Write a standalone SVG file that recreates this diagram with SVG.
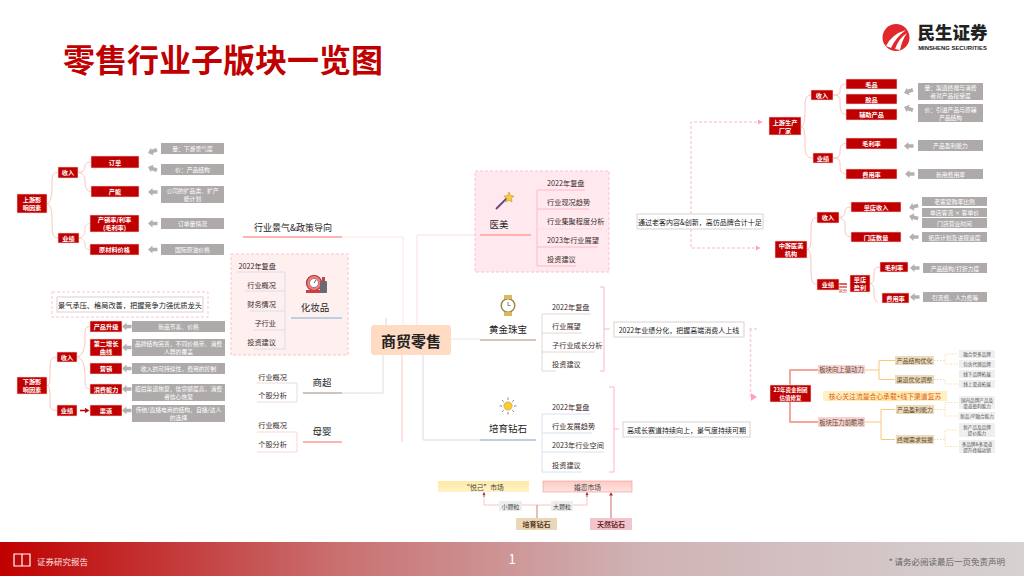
<svg xmlns="http://www.w3.org/2000/svg" width="1024" height="576" viewBox="0 0 1024 576">
<defs>
<linearGradient id="foot" x1="0" x2="1" y1="0" y2="0"><stop offset="0" stop-color="#c00000"/><stop offset=".33" stop-color="#c97070"/><stop offset=".62" stop-color="#d0b2b4"/><stop offset="1" stop-color="#d6d2d2"/></linearGradient>
<linearGradient id="yel" x1="0" x2="0" y1="0" y2="1"><stop offset="0" stop-color="#ffe9a6"/><stop offset="1" stop-color="#fff2c6"/></linearGradient>
<linearGradient id="pnk" x1="0" x2="0" y1="0" y2="1"><stop offset="0" stop-color="#ffc9c4"/><stop offset="1" stop-color="#ffe3df"/></linearGradient>
<linearGradient id="ban" x1="0" x2="1" y1="0" y2="0"><stop offset="0" stop-color="#fff1c4"/><stop offset=".5" stop-color="#ffe9a6"/><stop offset="1" stop-color="#fff1c4"/></linearGradient>
<path id="la" d="M0 0l4.500-4v2.200h5v3.600h-5v2.200z" fill="#b4b0b0"/>
<marker id="mp" markerWidth="6" markerHeight="6" refX="4" refY="3" orient="auto"><path d="M0 .5L4 3L0 5.500z" fill="#ff9fb8"/></marker>
<marker id="md" markerWidth="5" markerHeight="5" refX="3" refY="2.500" orient="auto"><path d="M0 .5L3 2.500L0 4.500z" fill="#b03030"/></marker>
</defs>
<style>
text{font-family:"Noto Sans CJK SC","Noto Sans",sans-serif;text-anchor:middle;dominant-baseline:central}
.r{fill:#c00000;stroke:#f5d5d5;stroke-width:.6}
.rt{fill:#fff;font-size:6.200px;font-weight:700}
.g{fill:#aeaaaa}
.gt{fill:#fff;font-size:5.800px}
.b{fill:none;stroke:#f4b9b0;stroke-width:.8}
.t{fill:#3a2a2a;font-size:7.200px}
.st{text-anchor:start}
.en{text-anchor:end}
.lb{fill:#222;font-size:9.500px}
.sm{fill:#efefef}
.smt{fill:#555;font-size:4.600px}
.tan{fill:#ecdcbc}
.tn{fill:#5a4a30;font-size:6.400px}
.pk{fill:#f8d3d3}
.hd{fill:#fff;stroke:#e2d8d4;stroke-width:1.200}
.dp{fill:none;stroke:#ffb5c8;stroke-width:1;stroke-dasharray:3 2}
.gd{fill:none;stroke:#f8c978;stroke-width:1}
.dot{fill:none;stroke:#f8d58c;stroke-width:.8;stroke-dasharray:1.500 1.500}
</style>
<rect width="1024" height="576" fill="#fff"/>
<g id="title"><text x="63" y="58" style="text-anchor:start;font-size:32px;font-weight:700;fill:#c00000">零售行业子版块一览图</text></g>
<g id="logo"><circle cx="896" cy="37.500" r="13.500" fill="#e1272c"/><path d="M886 46Q892 34 906 30Q896 37 891 48zM895 49Q899 38 907 33Q902 40 900 50z" fill="#fff"/><text x="952.500" y="31.500" style="font-size:17.500px;font-weight:900;fill:#222">民生证券</text><text x="952.500" y="48" style="font-size:5.900px;font-weight:700;fill:#222;font-family:'Liberation Sans',sans-serif">MINSHENG SECURITIES</text></g>

<g id="connectors" fill="none">
<path class="b" d="M58 172.500C52 172.500 52 176 52 185C52 198 50 203 47 203.500C50 204 52 209 52 220C52 232 52 238 58 238"/>
<path class="b" d="M91 162C85 162 85 165 85 167C85 171 82 172 78 172.500C82 173 85 175 85 180C85 187 86 191.500 91 191.500"/>
<path class="b" d="M91 223.500C85 223.500 85 227 85 230C85 235 83 237.500 79 238C83 238.500 85 241 85 244C85 248 86 249.500 90 249.500" style="stroke-opacity:.9"/>
<path class="b" d="M57 357C50 357 50 362 50 372C50 382 50 385 47 385.500C50 386 50 392 50 400C50 408 50 410.500 57 410.500"/>
<path class="b" d="M90 326.500C84 326.500 85 332 85 340C85 350 82 356 77 357C82 358 85 364 85 375C85 385 85 389 90 389"/>
<path d="M80 410.500H87M85 408.500l3 2l-3 2" stroke="#c00000" stroke-width="1.500"/>
<path class="b" d="M811 95C805 95 805 100 805 110C805 122 804 126 801 126.500C804 127 805 131 805 142C805 152 805 158 813 158"/>
<path class="b" d="M846 84C840 84 840 88 840 92C840 95 837 95 833 95C837 95 840 96 840 100C840 108 840 114.500 846 114.500"/>
<path class="b" d="M846 143.500C840 143.500 840 148 840 153C840 157 837 158 833 158C837 158 840 159 840 163C840 170 840 174 846 174"/>
<path class="b" d="M817 217.500C811 217.500 811 223 811 235C811 246 810 249 807 249.500C810 250 811 254 811 265C811 277 811 284.500 817 284.500"/>
<path class="b" d="M851 207C845 207 845 210 845 212C845 216 842 217 839 217.500C842 218 845 220 845 225C845 232 845 237 851 237"/>
<path class="b" d="M880 267C874 267 874 270 874 275C874 281 873 283 870 283.500C873 284 874 287 874 292C874 299 876 302 878 303"/>
<path d="M839 284H847" stroke="#c00000" stroke-width="1.200"/><path d="M839 287H847" stroke="#c00000" stroke-width="1"/>
<path d="M342 237H403V325" stroke="#fbe6e4" stroke-width="1"/>
<path d="M386 318V325" stroke="#c9d6e6" stroke-width="1"/>
<path d="M417 325V235H480" stroke="#fbdfe2" stroke-width="1"/>
<path d="M451 339H480" stroke="#eee6e4" stroke-width="1"/>
<path d="M342 393H383V355" stroke="#e0dedc" stroke-width="1"/>
<path d="M402 355V442" stroke="#ffc6c6" stroke-width="1"/>
<path d="M423 355V440H480" stroke="#d5dce6" stroke-width="1"/>
<path d="M600 287H604V371H600M604 329H610" stroke="#ffb5c5" stroke-width="1"/>
<path d="M609 387H614V472H609M614 429H619" stroke="#ffb5c5" stroke-width="1"/>
<path class="dp" d="M691 214V122H762" marker-end="url(#mp)"/>
<path class="dp" d="M691 229V248H760" marker-end="url(#mp)"/>
<path d="M749 329H757M750.500 329V397H757" fill="none" stroke="#ffcbd8" stroke-width="1.500" stroke-dasharray="3 2" marker-end="url(#mp)"/>
<path d="M484 492V505H587V492" stroke="#f5c8c4" stroke-width="1"/>
<path d="M484 497V492.500" stroke="#b03030" stroke-width=".8" marker-end="url(#md)"/>
<path d="M587 497V492.500" stroke="#b03030" stroke-width=".8" marker-end="url(#md)"/>
<path d="M537 505V518" stroke="#c88070" stroke-width="1"/>
<path d="M611 518V492.500" stroke="#c87070" stroke-width="1" marker-end="url(#md)"/>
<path d="M818 370H790V422H818" stroke="#f08a80" stroke-width="1.500"/>
<path class="gd" d="M865 370H879V360.500H895M879 370V379.500H895"/>
<path class="gd" d="M865 422H881V409.500H895M881 422V439.500H895"/>
<path class="dot" d="M934 360.500H945V354H958M945 360.500V364H958"/>
<path class="dot" d="M934 379.500H945V384H958"/>
<path class="dot" d="M934 409.500H945V402.500H958M945 409.500V416H958"/>
<path class="dot" d="M934 439.500H945V430H958M945 439.500V446.500H958"/>
<g id="arrows">
<use href="#la" transform="translate(148 153) rotate(-20)"/><use href="#la" transform="translate(148 167) rotate(20)"/><use href="#la" x="148" y="192"/><use href="#la" x="148" y="223.500"/><use href="#la" x="148" y="249.500"/>
<use href="#la" x="122" y="326.500"/><use href="#la" x="122" y="347.500"/><use href="#la" x="122" y="368.500"/><use href="#la" x="122" y="389"/><use href="#la" x="122" y="410.500"/>
<use href="#la" transform="translate(904 93) rotate(-20)"/><use href="#la" transform="translate(904 107) rotate(20)"/><use href="#la" x="904" y="146"/><use href="#la" x="905" y="174"/>
<use href="#la" transform="translate(909 208) rotate(-15)"/><use href="#la" transform="translate(909 216) rotate(15)"/><use href="#la" x="909" y="237"/><use href="#la" x="910" y="268"/><use href="#la" x="910" y="297"/>
</g>
</g>

<g id="up-left">
<g id="n1"><rect class="r" x="17" y="194" width="30" height="19"/><text class="rt" x="32" y="199.500">上游影</text><text class="rt" x="32" y="207.500">响因素</text></g>
<g id="n2"><rect class="r" x="58" y="167" width="20" height="11"/><text class="rt" x="68" y="172.500">收入</text></g>
<g id="n3"><rect class="r" x="58" y="233" width="21" height="10"/><text class="rt" x="68.500" y="238">业绩</text></g>
<g id="n4"><rect class="r" x="91" y="156" width="48" height="12"/><text class="rt" x="115" y="162">订单</text></g>
<g id="n5"><rect class="r" x="91" y="186" width="48" height="11"/><text class="rt" x="115" y="191.500">产能</text></g>
<g id="n6"><rect class="r" x="90" y="215" width="49" height="17"/><text class="rt" x="114.500" y="219.500">产销率/利率</text><text class="rt" x="114.500" y="227.500">(毛利率)</text></g>
<g id="n7"><rect class="r" x="90" y="244" width="49" height="11"/><text class="rt" x="114.500" y="249.500">原材料价格</text></g>
<g id="n8"><rect class="g" x="161" y="143" width="63" height="11"/><text class="gt" x="192.500" y="148.500">量：下游景气度</text></g>
<g id="n9"><rect class="g" x="161" y="164" width="63" height="11"/><text class="gt" x="192.500" y="169.500">价：产品结构</text></g>
<g id="n10"><rect class="g" x="161" y="186" width="63" height="17"/><text class="gt" x="192.500" y="190.500">公司的扩品类、扩产</text><text class="gt" x="192.500" y="198">能计划</text></g>
<g id="n11"><rect class="g" x="161" y="218" width="63" height="11"/><text class="gt" x="192.500" y="223.500">订单量情况</text></g>
<g id="n12"><rect class="g" x="161" y="244" width="63" height="11"/><text class="gt" x="192.500" y="249.500">国际原油价格</text></g>
</g>

<g id="callout"><rect x="52" y="292" width="156" height="25" fill="#fff" stroke="#ffb8cc" stroke-dasharray="3 2" stroke-width=".9"/><rect class="hd" x="57" y="297" width="146" height="15"/><text x="130" y="304.500" style="font-size:7.200px;fill:#222">景气承压、格局改善，把握竞争力强优质龙头</text></g>

<g id="down-left">
<g id="d1"><rect class="r" x="17" y="377" width="30" height="17"/><text class="rt" x="32" y="381.500">下游影</text><text class="rt" x="32" y="389.500">响因素</text></g>
<g id="d2"><rect class="r" x="57" y="352" width="20" height="10"/><text class="rt" x="67" y="357">收入</text></g>
<g id="d3"><rect class="r" x="57" y="405" width="20" height="11"/><text class="rt" x="67" y="410.500">业绩</text></g>
<g id="d4"><rect class="r" x="90" y="321" width="32" height="11"/><text class="rt" x="106" y="326.500">产品升级</text></g>
<g id="d5"><rect class="r" x="90" y="339" width="32" height="17"/><text class="rt" x="106" y="343.500">第二增长</text><text class="rt" x="106" y="351.500">曲线</text></g>
<g id="d6"><rect class="r" x="90" y="363" width="32" height="11"/><text class="rt" x="106" y="368.500">营销</text></g>
<g id="d7"><rect class="r" x="90" y="384" width="32" height="10"/><text class="rt" x="106" y="389">消费能力</text></g>
<g id="d8"><rect class="r" x="90" y="405" width="32" height="11"/><text class="rt" x="106" y="410.500">渠道</text></g>
<g id="d9"><rect class="g" x="132" y="321" width="93" height="11"/><text class="gt" x="178.500" y="326.500">新品节奏、价格</text></g>
<g id="d10"><rect class="g" x="132" y="339" width="93" height="17"/><text class="gt" x="178.500" y="343.500">品牌结构完善，不同价格带、消费</text><text class="gt" x="178.500" y="351">人群的覆盖</text></g>
<g id="d11"><rect class="g" x="132" y="363" width="93" height="11"/><text class="gt" x="178.500" y="368.500">收入的可持续性，费用的控制</text></g>
<g id="d12"><rect class="g" x="132" y="384" width="93" height="17"/><text class="gt" x="178.500" y="388.500">疫后渠道恢复，信贷额度高，消费</text><text class="gt" x="178.500" y="396">者信心恢复</text></g>
<g id="d13"><rect class="g" x="132" y="405" width="93" height="17"/><text class="gt" x="178.500" y="409.500">传统/直播电商的结构，自播/达人</text><text class="gt" x="178.500" y="417">的选择</text></g>
</g>

<g id="policy"><text class="lb" style="font-size:9px" x="293" y="227">行业景气&amp;政策导向</text><path d="M243 237H342" stroke="#ffb3b3" stroke-width="2"/></g>

<g id="cosmetics">
<rect x="231" y="254" width="117" height="101" fill="#fff0f0" stroke="#ffc0c8" stroke-dasharray="3 2"/>
<path d="M237 272H285V349H254M245 291H285M250 311H285M254 330H285" fill="none" stroke="#dcdde8" stroke-width="1"/>
<text class="t en" x="276" y="266">2022年复盘</text><text class="t en" x="276" y="285">行业概况</text><text class="t en" x="276" y="304">财务情况</text><text class="t en" x="276" y="323">子行业</text><text class="t en" x="276" y="342">投资建议</text>
<circle cx="314" cy="283" r="7.500" fill="#f08080" stroke="#b03030" stroke-width="1.200"/><circle cx="314" cy="283" r="4.500" fill="#fff" stroke="#555" stroke-width=".6"/><path d="M314 283l2-3" stroke="#333" stroke-width=".8"/><rect x="306" y="290" width="15" height="3" fill="#c84040"/><rect x="320" y="281" width="7" height="12" rx="1" fill="#6a6a70"/><rect x="322" y="277" width="3" height="4" fill="#c84040"/>
<text class="lb" x="315" y="307">化妆品</text><path d="M291 318H342" stroke="#c0cfe0" stroke-width="2"/>
</g>

<g id="core"><rect x="371" y="325" width="80" height="30" rx="3" fill="#ffdbc4"/><text x="411" y="340" style="font-size:15px;font-weight:700;fill:#222">商贸零售</text></g>

<g id="super">
<path d="M257 383H297V402H257" fill="none" stroke="#ecdcd8" stroke-width="1"/>
<text class="t en" x="287" y="377">行业概况</text><text class="t en" x="287" y="395">个股分析</text>
<text class="lb" x="322" y="382">商超</text><path d="M303 393H342" stroke="#cfc5bf" stroke-width="2"/>
</g>
<g id="baby">
<path d="M257 432H297V452H257" fill="none" stroke="#ffd4d4" stroke-width="1"/>
<text class="t en" x="287" y="425">行业概况</text><text class="t en" x="287" y="444">个股分析</text>
<text class="lb" x="322" y="431">母婴</text><path d="M303 442H342" stroke="#ffb3b3" stroke-width="2"/>
</g>

<g id="medical">
<rect x="475" y="171" width="134" height="101" fill="#ffe9ee" stroke="#ffbfd0" stroke-dasharray="3 2"/>
<path d="M585 190H537V266H576M537 209H589M537 247H598" fill="none" stroke="#ffb8c8" stroke-width="1"/><path d="M537 229H602" stroke="#ffd3de" stroke-width=".7"/>
<text class="t st" x="547" y="183">2022年复盘</text><text class="t st" x="547" y="202">行业现况趋势</text><text class="t st" x="547" y="221">行业集聚程度分析</text><text class="t st" x="547" y="240">2023年行业展望</text><text class="t st" x="547" y="259">投资建议</text>
<path d="M496 209L508 197" stroke="#6b4a80" stroke-width="2"/><path d="M509 192l1.500 3.500l3.500.5l-2.500 2.500l.5 3.500l-3-1.800l-3 1.800l.5-3.500l-2.500-2.500l3.500-.5z" fill="#f5c93a" stroke="#a07b20" stroke-width=".4"/>
<text class="lb" x="499" y="224">医美</text><path d="M480 235H531" stroke="#ffb0b0" stroke-width="2"/>
</g>
<g id="medical-note"><rect class="hd" x="637" y="214" width="126" height="15"/><text x="700" y="221.500" style="font-size:7px;fill:#222">通过老客内容&amp;创新，高仿品牌合计十足</text></g>

<g id="jewelry">
<path d="M591 314H542V371H556M542 333H582M542 352H595" fill="none" stroke="#e2d6d2" stroke-width="1"/>
<text class="t st" x="552" y="307">2022年复盘</text><text class="t st" x="552" y="326">行业展望</text><text class="t st" x="552" y="345">子行业成长分析</text><text class="t st" x="552" y="364">投资建议</text>
<circle cx="508" cy="305.500" r="6.800" fill="#fff" stroke="#a08a40" stroke-width="1.500"/><rect x="504" y="295" width="8" height="4" fill="#d8b860"/><rect x="504" y="312" width="8" height="4" fill="#d8b860"/><path d="M508 305.500v-3.500M508 305.500h2.500" stroke="#555" stroke-width=".7"/>
<text class="lb" x="508" y="329">黄金珠宝</text><path d="M480 340H536" stroke="#d8c4bc" stroke-width="2"/>
</g>
<g id="jewelry-note"><rect class="hd" x="614" y="322" width="130" height="15"/><text x="679" y="329.500" style="font-size:7px;fill:#222">2022年业绩分化，把握高端消费人上线</text></g>

<g id="diamond">
<path d="M591 414H542V472H582M542 433H592M542 452H604" fill="none" stroke="#d8e2ee" stroke-width="1"/>
<text class="t st" x="552" y="407">2022年复盘</text><text class="t st" x="552" y="426">行业发展趋势</text><text class="t st" x="552" y="445">2023年行业空间</text><text class="t st" x="552" y="465">投资建议</text>
<circle cx="508" cy="406" r="4.200" fill="#f8c93a" stroke="#a88a20" stroke-width=".4"/><path d="M508 397.500v2.500M508 412v2.500M499.500 406h2.500M514 406h2.500M502 400l1.800 1.800M512.200 410.200l1.800 1.800M514 400l-1.800 1.800M503.800 410.200l-1.800 1.800" stroke="#555" stroke-width=".7"/>
<text class="lb" x="508" y="428">培育钻石</text><path d="M480 440H536" stroke="#c0cfe0" stroke-width="2"/>
</g>
<g id="diamond-note"><rect class="hd" x="623" y="422" width="127" height="15"/><text x="686.500" y="429.500" style="font-size:7px;fill:#222">高成长赛道持续向上，景气度持续可期</text></g>

<g id="market">
<g id="m1"><rect x="438" y="481" width="91" height="11" fill="url(#yel)"/><text x="483.500" y="486.500" style="font-size:6.800px;fill:#444">“悦己”市场</text></g>
<g id="m2"><rect x="543" y="481" width="89" height="11" fill="url(#pnk)" stroke="#e89a94" stroke-width=".6"/><text x="587.500" y="486.500" style="font-size:6.800px;fill:#444">婚恋市场</text></g>
<g id="m3"><rect x="499" y="501" width="23" height="10" fill="#eee"/><text x="510.500" y="506" style="font-size:6px;fill:#444">小颗粒</text></g>
<g id="m4"><rect x="551" y="501" width="22" height="10" fill="#eee"/><text x="562" y="506" style="font-size:6px;fill:#444">大颗粒</text></g>
<g id="m5"><rect x="516" y="518" width="41" height="12" fill="#e8d8b8"/><text x="536.500" y="524" style="font-size:7px;font-weight:700;fill:#5a3a20">培育钻石</text></g>
<g id="m6"><rect x="590" y="518" width="42" height="12" fill="#f2c4cc"/><text x="611" y="524" style="font-size:7px;font-weight:700;fill:#6a2a2a">天然钻石</text></g>
</g>

<g id="up-right">
<g id="u1"><rect class="r" x="769" y="117" width="32" height="18"/><text class="rt" x="785" y="122">上游生产</text><text class="rt" x="785" y="130">厂家</text></g>
<g id="u2"><rect class="r" x="811" y="90" width="22" height="10"/><text class="rt" x="822" y="95">收入</text></g>
<g id="u3"><rect class="r" x="813" y="153" width="20" height="10"/><text class="rt" x="823" y="158">业绩</text></g>
<g id="u4"><rect class="r" x="846" y="79" width="51" height="10"/><text class="rt" x="871.500" y="84">毛品</text></g>
<g id="u5"><rect class="r" x="846" y="94" width="51" height="10"/><text class="rt" x="871.500" y="99">胶品</text></g>
<g id="u6"><rect class="r" x="846" y="109" width="51" height="11"/><text class="rt" x="871.500" y="114.500">辅助产品</text></g>
<g id="u7"><rect class="r" x="846" y="138" width="51" height="11"/><text class="rt" x="871.500" y="143.500">毛利率</text></g>
<g id="u8"><rect class="r" x="846" y="169" width="51" height="10"/><text class="rt" x="871.500" y="174">费用率</text></g>
<g id="u9"><rect class="g" x="918" y="83" width="65" height="17"/><text class="gt" x="950.500" y="87.500">量：渠道终端与消费</text><text class="gt" x="950.500" y="95">者对产品接受度</text></g>
<g id="u10"><rect class="g" x="918" y="104" width="65" height="18"/><text class="gt" x="950.500" y="109">价：引进产品与原辅</text><text class="gt" x="950.500" y="117">产品结构</text></g>
<g id="u11"><rect class="g" x="918" y="140" width="65" height="11"/><text class="gt" x="950.500" y="145.500">产品盈利能力</text></g>
<g id="u12"><rect class="g" x="918" y="169" width="65" height="10"/><text class="gt" x="950.500" y="174">新用费用率</text></g>
</g>

<g id="mid-right">
<g id="c1"><rect class="r" x="775" y="241" width="32" height="17"/><text class="rt" x="791" y="245.500">中游医美</text><text class="rt" x="791" y="253.500">机构</text></g>
<g id="c2"><rect class="r" x="817" y="212" width="22" height="11"/><text class="rt" x="828" y="217.500">收入</text></g>
<g id="c3"><rect class="r" x="817" y="279" width="22" height="11"/><text class="rt" x="828" y="284.500">业绩</text></g>
<g id="c4"><rect class="r" x="851" y="202" width="50" height="10"/><text class="rt" x="876" y="207">单店收入</text></g>
<g id="c5"><rect class="r" x="851" y="232" width="50" height="10"/><text class="rt" x="876" y="237">门店数量</text></g>
<g id="c6"><rect class="r" x="850" y="275" width="20" height="17"/><text class="rt" x="860" y="279.500">单店</text><text class="rt" x="860" y="287.500">盈利</text></g>
<g id="c7"><rect class="r" x="880" y="262" width="28" height="10"/><text class="rt" x="894" y="267">毛利率</text></g>
<g id="c8"><rect class="r" x="882" y="293" width="27" height="10"/><text class="rt" x="895.500" y="298">费用率</text></g>
<g id="c9"><rect class="g" x="922" y="197" width="65" height="9"/><text class="gt" x="954.500" y="201.500">老客复购率比例</text></g>
<g id="c10"><rect class="g" x="922" y="208" width="65" height="9"/><text class="gt" x="954.500" y="212.500">单店客流 × 客单价</text></g>
<g id="c11"><rect class="g" x="922" y="218" width="65" height="10"/><text class="gt" x="954.500" y="223">门店营业时间</text></g>
<g id="c12"><rect class="g" x="922" y="232" width="65" height="10"/><text class="gt" x="954.500" y="237">拓店计划及进展速度</text></g>
<g id="c13"><rect class="g" x="923" y="263" width="64" height="10"/><text class="gt" x="955" y="268">产品结构/打折力度</text></g>
<g id="c14"><rect class="g" x="923" y="292" width="64" height="10"/><text class="gt" x="955" y="297">引流费、人力费等</text></g>
<g id="c15"><text x="843" y="291" style="font-size:4px;fill:#c00000">拆分</text></g>
</g>

<g id="low-right">
<g id="l1"><rect x="770" y="385" width="41" height="17" fill="#c00000" stroke="#f5d5d5" stroke-width=".6"/><text class="rt" style="font-size:5.500px" x="790.500" y="389.500">23年资金抱团</text><text class="rt" style="font-size:5.500px" x="790.500" y="397.500">估值修复</text></g>
<g id="l2"><rect class="pk" x="818" y="365" width="47" height="9"/><text class="tn" x="841.500" y="369.500">板块向上驱动力</text></g>
<g id="l3"><rect class="pk" x="818" y="417" width="47" height="10"/><text class="tn" x="841.500" y="422">板块压力前瞻项</text></g>
<g id="l4"><rect class="tan" x="895" y="356" width="39" height="9"/><text class="tn" style="font-size:6px" x="914.500" y="360.500">产品结构优化</text></g>
<g id="l5"><rect class="tan" x="895" y="375" width="39" height="9"/><text class="tn" style="font-size:6px" x="914.500" y="379.500">渠道优化调整</text></g>
<g id="l6"><rect class="tan" x="896" y="405" width="38" height="9"/><text class="tn" style="font-size:6px" x="915" y="409.500">产品盈利能力</text></g>
<g id="l7"><rect class="tan" x="896" y="435" width="38" height="9"/><text class="tn" style="font-size:6px" x="915" y="439.500">终端需求提振</text></g>
<g id="l8"><rect x="823" y="391" width="124" height="10" fill="url(#ban)"/><text x="885" y="396" style="font-size:6.800px;fill:#e0631a">核心关注流量合心承载+线下渠道复苏</text></g>
<g id="l9"><rect class="sm" x="959" y="350" width="36" height="8"/><text class="smt" x="977" y="354">融合型多品牌</text></g>
<g id="l10"><rect class="sm" x="959" y="360" width="36" height="8"/><text class="smt" x="977" y="364">包含代理品牌</text></g>
<g id="l11"><rect class="sm" x="959" y="370" width="36" height="8"/><text class="smt" x="977" y="374">线下品牌拓展</text></g>
<g id="l12"><rect class="sm" x="959" y="380" width="36" height="8"/><text class="smt" x="977" y="384">线上渠道拓展</text></g>
<g id="l13"><rect class="sm" x="959" y="396" width="36" height="13"/><text class="smt" x="977" y="400">国内品牌产品及</text><text class="smt" x="977" y="405.500">渠道盈利能力</text></g>
<g id="l14"><rect class="sm" x="959" y="412" width="36" height="8"/><text class="smt" x="977" y="416">新品/IP融合能力</text></g>
<g id="l15"><rect class="sm" x="959" y="423" width="36" height="14"/><text class="smt" x="977" y="427">新产品及品牌</text><text class="smt" x="977" y="433">提价能力</text></g>
<g id="l16"><rect class="sm" x="959" y="440" width="36" height="13"/><text class="smt" x="977" y="444">多品牌&amp;多渠道</text><text class="smt" x="977" y="449.500">提升终端动销</text></g>
</g>

<g id="footer">
<rect y="542" width="1024" height="34" fill="url(#foot)"/>
<path d="M14 554H22V566H14zM22 554H30V566H22z" fill="none" stroke="#fff" stroke-width="1.200"/>
<text x="37" y="561" style="text-anchor:start;font-size:8.500px;fill:#fbe5e5">证券研究报告</text>
<text x="512" y="558" style="font-size:13px;fill:#fff">1</text>
<text x="1005" y="561" style="text-anchor:end;font-size:8.500px;fill:#666">* 请务必阅读最后一页免责声明</text>
</g>
</svg>
